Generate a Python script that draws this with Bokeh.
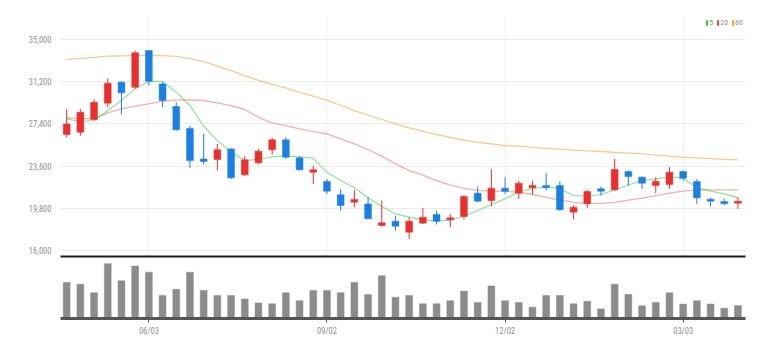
import pandas as pd
from bokeh.plotting import figure
from bokeh.layouts import column
from bokeh.models import ColumnDataSource, FixedTicker, NumeralTickFormatter, Range1d, Legend, LegendItem
from bokeh.embed import file_html
from bokeh.resources import INLINE

# ---------------- data (weekly candles) ----------------
dates = list(pd.date_range("2020-04-22", periods=50, freq="7D").strftime("%m/%d"))

opens = [26450, 26650, 27800, 29270, 31150, 30700, 34000, 31000, 28970, 27000,
         24250, 24200, 25150, 22820, 23900, 25070, 25970, 24350, 23060, 22220,
         21020, 20360, 20200, 18260, 18650, 17660, 18470, 19250, 18770, 19070,
         21170, 20510, 21620, 21170, 21650, 21860, 21860, 19460, 20210, 21560,
         21470, 23120, 22610, 21860, 21950, 23120, 22220, 20630, 20420, 20270]
closes = [27400, 28450, 29350, 31070, 30200, 33800, 31250, 29500, 26870, 24100,
          24020, 25070, 22550, 24170, 24950, 25970, 24400, 23270, 23270, 21350,
          20060, 20600, 18860, 18500, 18200, 18650, 19010, 18650, 18950, 20870,
          20450, 21620, 21350, 22070, 21860, 21650, 19670, 19910, 21320, 21350,
          23300, 22670, 22070, 22250, 23060, 22520, 20750, 20450, 20210, 20450]
highs = [28760, 28760, 29600, 31500, 31220, 34000, 34000, 31150, 29350, 27250,
         26500, 25600, 25250, 24500, 25150, 26150, 26200, 24470, 23650, 22450,
         21550, 21470, 20800, 20500, 19150, 19000, 19850, 19600, 19300, 21000,
         21770, 23350, 22600, 22300, 22300, 22970, 22250, 20060, 21470, 21770,
         24260, 23210, 22670, 22600, 23500, 23210, 22450, 20750, 20660, 20810]
lows = [26200, 26350, 27700, 28900, 28250, 30550, 30850, 28900, 26800, 23450,
        23750, 23200, 22450, 22700, 23800, 24650, 24250, 23200, 22000, 21100,
        19600, 19900, 18850, 18170, 17800, 17050, 18400, 18350, 18100, 18800,
        20350, 19970, 21100, 20650, 21050, 21400, 19600, 18800, 19850, 20960,
        21400, 21860, 21560, 21170, 21560, 22310, 20200, 19970, 20120, 19760]
volumes = [105, 100, 75, 160, 110, 153, 135, 67, 85, 135,
           82, 67, 67, 57, 45, 43, 75, 52, 82, 82,
           75, 105, 70, 125, 62, 67, 43, 43, 52, 80,
           47, 95, 52, 47, 33, 67, 67, 43, 50, 28,
           100, 70, 37, 47, 75, 42, 52, 42, 30, 38]

ma5 = [27860, 27620, 27710, 28610, 29510, 30560, 31250, 31200, 30260, 29060,
       27200, 25900, 24900, 24110, 24200, 24450, 24500, 24470, 24300, 23060,
       22310, 21650, 20750, 19970, 19310, 19010, 18770, 18650, 18770, 19070,
       19610, 20150, 20660, 21300, 21560, 21770, 21560, 20960, 20900, 21050,
       21470, 21900, 22310, 22460, 22650, 22500, 21700, 21350, 21110, 20750]
ma20 = [27950, 27900, 27860, 28400, 28760, 29000, 29210, 29450, 29550, 29570,
        29510, 29300, 29050, 28700, 28000, 27500, 27250, 26950, 26700, 26500,
        26050, 25600, 25100, 24500, 23800, 23200, 22800, 22300, 21900, 21600,
        21420, 21380, 21330, 21260, 21050, 20800, 20550, 20350, 20250, 20220,
        20340, 20550, 20720, 20950, 21170, 21350, 21440, 21470, 21470, 21470]
ma60 = [33200, 33300, 33400, 33500, 33530, 33550, 33560, 33540, 33480, 33270,
        33000, 32600, 32200, 31750, 31330, 30970, 30650, 30250, 29900, 29550,
        29060, 28600, 28200, 27800, 27400, 27050, 26750, 26450, 26200, 25950,
        25750, 25600, 25450, 25400, 25300, 25200, 25130, 25050, 24980, 24920,
        24850, 24780, 24700, 24600, 24500, 24420, 24350, 24280, 24220, 24170]

price_ticks = [16000, 19800, 23600, 27400, 31200, 35000]
tick_labels = ["06/03", "09/02", "12/02", "03/03"]
ma_names = ["5", "20", "60"]

# ---------------- styling ----------------
FONT = "Roboto Condensed, DejaVu Sans Condensed, Liberation Sans Narrow, Roboto, sans-serif"
UP, DOWN = "#e8312f", "#1b7fe3"
LABEL_COLOR = "#8f8f8f"

idx = list(range(len(dates)))
tick_pos = [dates.index(t) for t in tick_labels]
colors = [UP if c >= o else DOWN for o, c in zip(opens, closes)]
src = ColumnDataSource(dict(
    x=idx, open=opens, close=closes, high=highs, low=lows,
    top=[max(o, c) for o, c in zip(opens, closes)],
    bottom=[min(o, c) for o, c in zip(opens, closes)],
    color=colors, vol=volumes, ma5=ma5, ma20=ma20, ma60=ma60))

x_range = Range1d(-0.45, 49.55)

p1 = figure(width=770, height=258, output_backend="svg", toolbar_location=None,
            x_range=x_range, y_range=Range1d(15470, 37070),
            min_border_left=60, min_border_right=25, min_border_top=16, min_border_bottom=2)
p1.outline_line_color = None
p1.background_fill_color = "white"

p1.yaxis.ticker = FixedTicker(ticks=price_ticks)
p1.yaxis.formatter = NumeralTickFormatter(format="0,0")
p1.yaxis.axis_line_color = None
p1.yaxis.major_tick_line_color = None
p1.yaxis.minor_tick_line_color = None
p1.yaxis.major_label_text_color = LABEL_COLOR
p1.yaxis.major_label_text_font = FONT
p1.yaxis.major_label_text_font_size = "8.5px"
p1.yaxis.major_label_standoff = 3

# bottom axis of the price panel: only the heavy black line, no ticks/labels
p1.xaxis.ticker = FixedTicker(ticks=[])
p1.xaxis.axis_line_width = 2
p1.xaxis.axis_line_color = "#1a1a1a"
p1.xaxis.major_tick_line_color = None
p1.xaxis.minor_tick_line_color = None
p1.xaxis.major_tick_out = 0
p1.xaxis.major_label_standoff = 0

p1.ygrid.grid_line_color = "#ececec"
p1.xgrid.ticker = FixedTicker(ticks=tick_pos)
p1.xgrid.grid_line_color = "#f1f1f1"

# moving averages
p1.line("x", "ma60", source=src, line_color="#f39c33", line_alpha=0.55, line_width=1.3)
p1.line("x", "ma20", source=src, line_color="#ee3333", line_alpha=0.4, line_width=1.3)
p1.line("x", "ma5", source=src, line_color="#2ecc40", line_alpha=0.55, line_width=1.2)

# candles
p1.segment(x0="x", x1="x", y0="low", y1="high", source=src, line_color="color", line_width=1)
p1.vbar(x="x", width=0.5, top="top", bottom="bottom", source=src,
        fill_color="color", line_color="color", line_width=0.5)

# legend (swatches drawn by Bokeh's legend from placeholder renderers)
leg_colors = ["#2ecc40", "#ee4444", "#f39c33"]
items = []
for name, col in zip(ma_names, leg_colors):
    nan = float("nan")
    r = p1.quad(left=[nan], right=[nan], top=[nan], bottom=[nan], fill_color=col, line_color=None)
    items.append(LegendItem(label=name, renderers=[r], index=0))
legend = Legend(items=items, orientation="horizontal", location="top_right",
                glyph_width=3, glyph_height=7, label_standoff=1, spacing=3,
                label_text_font=FONT, label_text_font_size="8px",
                label_text_color=LABEL_COLOR, padding=2, margin=2,
                border_line_color=None, background_fill_alpha=0,
                label_height=7, label_width=4)
p1.add_layout(legend)

# ---------------- volume panel ----------------
p2 = figure(width=770, height=80, output_backend="svg", toolbar_location=None,
            x_range=x_range, y_range=Range1d(0, 175),
            min_border_left=60, min_border_right=25, min_border_top=0, min_border_bottom=0)
p2.outline_line_color = None
p2.yaxis.visible = False
p2.grid.grid_line_color = None
p2.vbar(x="x", width=0.5, top="vol", bottom=0, source=src,
        fill_color="#8c8c8c", line_color="#8c8c8c", line_width=0.5)

p2.xaxis.ticker = FixedTicker(ticks=tick_pos)
p2.xaxis.major_label_overrides = {p: l for p, l in zip(tick_pos, tick_labels)}
p2.xaxis.axis_line_width = 3
p2.xaxis.axis_line_color = "#555555"
p2.xaxis.major_tick_line_color = "#555555"
p2.xaxis.major_tick_out = 4
p2.xaxis.major_tick_in = 0
p2.xaxis.minor_tick_line_color = None
p2.xaxis.major_label_text_color = LABEL_COLOR
p2.xaxis.major_label_text_font = FONT
p2.xaxis.major_label_text_font_size = "8.5px"
p2.xaxis.major_label_standoff = 3

layout = column(p1, p2, spacing=0)
open("out.html", "w").write(file_html(layout, INLINE))
